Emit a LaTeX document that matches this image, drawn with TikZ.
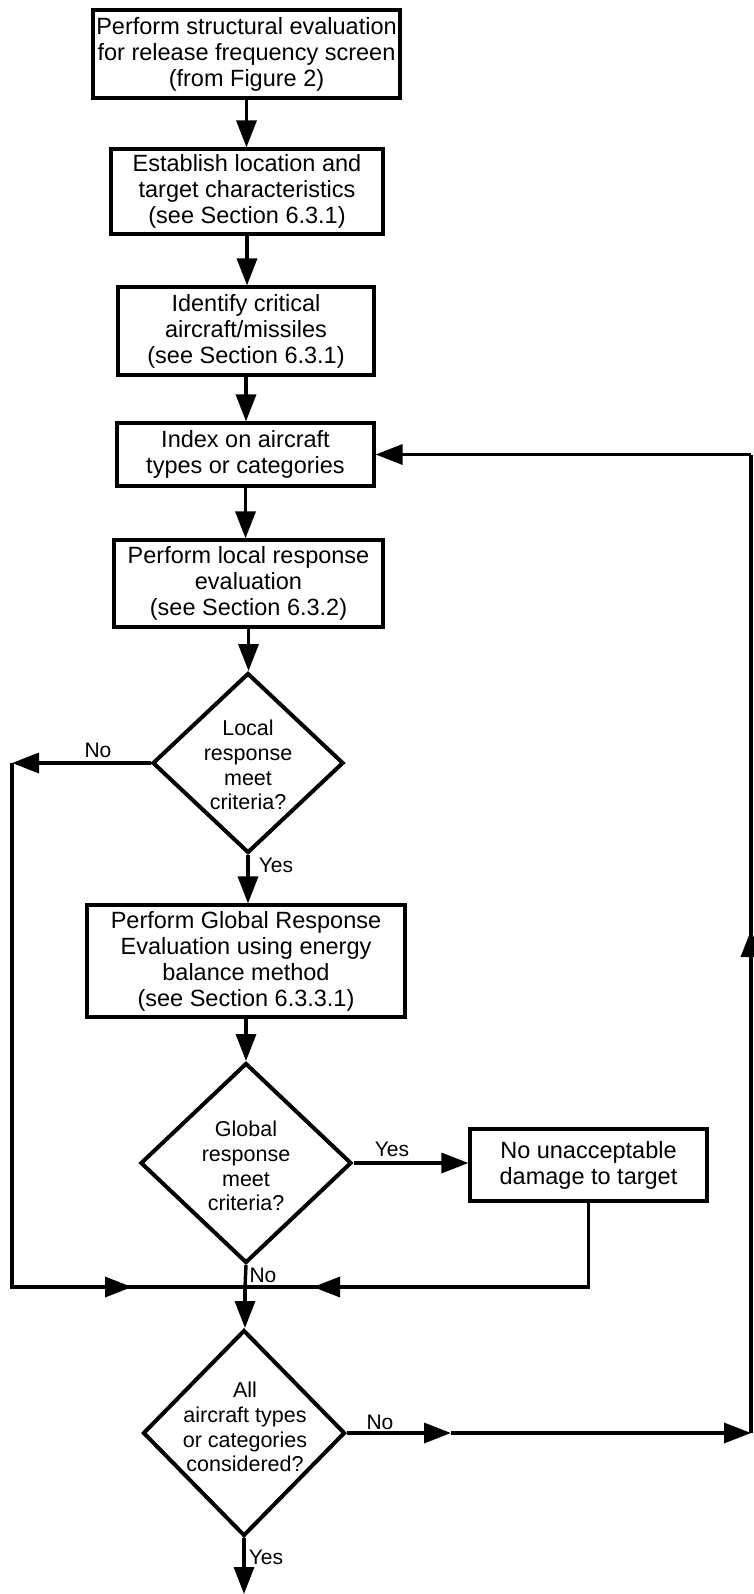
\documentclass[tikz,border=0pt]{standalone}
\usepackage{fontspec}
\setmainfont{Liberation Sans}
\usetikzlibrary{shapes.geometric,arrows.meta}
\begin{document}
\begin{tikzpicture}[x=1pt,y=-1pt,
  box/.style={draw,line width=3.2pt,rectangle,inner sep=0pt,align=center,font=\fontsize{23.5}{26}\selectfont},
  dia/.style={draw,line width=4pt,shape=diamond,inner sep=0pt},
  dtext/.style={align=center,font=\fontsize{21.5}{24.7}\selectfont,inner sep=0pt},
  lbl/.style={font=\fontsize{21}{24}\selectfont,inner sep=0pt},
  conn/.style={line width=3.4pt},
  arr/.style={conn,-{Triangle[length=27pt,width=20pt]}}]
\useasboundingbox (0,0) rectangle (753,1594);

% boxes
\node[box,minimum width=307pt,minimum height=88pt] (b1) at (246.5,54) {Perform structural evaluation\\for release frequency screen\\(from Figure 2)};
\node[box,minimum width=272pt,minimum height=85pt] (b2) at (247,191.5) {Establish location and\\target characteristics\\(see Section 6.3.1)};
\node[box,minimum width=256pt,minimum height=88pt] (b3) at (246,331) {Identify critical\\aircraft/missiles\\(see Section 6.3.1)};
\node[box,minimum width=257pt,minimum height=63pt] (b4) at (245.5,454.5) {Index on aircraft\\types or categories};
\node[box,minimum width=269pt,minimum height=87pt] (b5) at (248.5,583.5) {Perform local response\\evaluation\\(see Section 6.3.2)};
\node[dia,minimum width=191pt,minimum height=180pt] (d1) at (248,763) {};
\node[dtext] (t1) at (248,765) {Local\\response\\meet\\criteria?};
\node[box,minimum width=318pt,minimum height=112pt] (b6) at (246,961) {Perform Global Response\\Evaluation using energy\\balance method\\(see Section 6.3.3.1)};
\node[dia,minimum width=211pt,minimum height=200pt] (d2) at (246,1163) {};
\node[dtext] (t2) at (246,1166) {Global\\response\\meet\\criteria?};
\node[box,minimum width=237pt,minimum height=72pt] (b7) at (588.5,1165) {No unacceptable\\damage to target};
\node[dia,minimum width=202pt,minimum height=206pt] (d3) at (244,1433) {};
\node[dtext] (t3) at (245,1427) {All\\aircraft types\\or categories\\considered?};

% labels
\node[lbl] (lno1) at (98,750) {No};
\node[lbl] (lyes1) at (276,865) {Yes};
\node[lbl] (lyes2) at (392,1149) {Yes};
\node[lbl] (lno2) at (263,1275) {No};
\node[lbl] (lno3) at (380,1422) {No};
\node[lbl] (lyes3) at (266,1557) {Yes};

% coordinates
\coordinate (cl) at (12,763);
\coordinate (cbl) at (12,1287);
\coordinate (mL) at (132,1287);
\coordinate (J) at (245,1287);
\coordinate (mR) at (313,1287);
\coordinate (b7d) at (b7.south |- J);
\coordinate (mB) at (451,1433);
\coordinate (r1) at (751,1433);
\coordinate (mUp) at (751,930);
\coordinate (r2) at (751,454.5);
\coordinate (bend) at (244,1594);

% main flow
\draw[arr] (b1.south) -- (b1.south |- b2.north);
\draw[arr] (b2.south) -- (b2.south |- b3.north);
\draw[arr] (b3.south) -- (b3.south |- b4.north);
\draw[arr] (b4.south) -- (b4.south |- b5.north);
\draw[arr] (b5.south) -- (b5.south |- d1.north);
\draw[arr] (d1.south) -- (d1.south |- b6.north);
\draw[arr] (b6.south) -- (b6.south |- d2.north);
\draw[arr] (d2.east) -- (d2.east -| b7.west);

% local "No" branch
\draw[arr] (d1.west) -- (cl);
\draw[conn] (cl) -- (cbl) -- (mL);
\draw[arr] (cbl) -- (mL);
\draw[conn] (mL) -- (J);

% box7 return
\draw[conn] (b7.south) -- (b7d) -- (mR);
\draw[arr] (b7d) -- (mR);
\draw[conn] (mR) -- (J);

% global "No" to last decision
\draw[conn] (d2.south) -- (J);
\draw[arr] (J) -- (J |- d3.north);

% loop back
\draw[arr] (d3.east) -- (mB);
\draw[arr] (mB) -- (r1);
\draw[conn] (r1) -- (mUp);
\draw[arr] (r1) -- (mUp);
\draw[conn] (mUp) -- (r2);
\draw[arr] (r2) -- (b4.east);

% exit
\draw[arr] (d3.south) -- (bend);
\end{tikzpicture}
\end{document}
